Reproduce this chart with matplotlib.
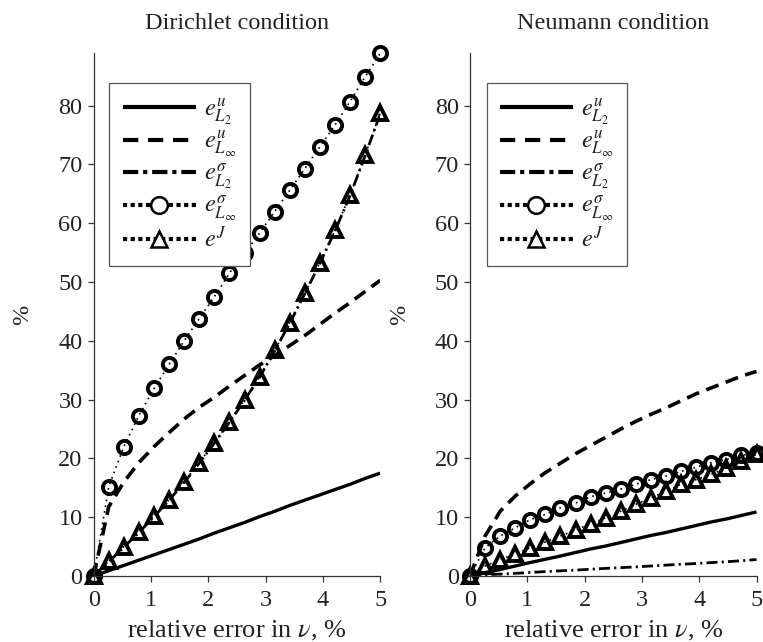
import numpy as np
import matplotlib
matplotlib.use('Agg')
import matplotlib.pyplot as plt
from matplotlib.lines import Line2D

# ---------------- data ----------------
nu = [0.0, 0.263, 0.526, 0.789, 1.053, 1.316, 1.579, 1.842, 2.105, 2.368,
      2.632, 2.895, 3.158, 3.421, 3.684, 3.947, 4.211, 4.474, 4.737, 5.0]

# Dirichlet condition
dir_eu_L2 = [0, 0.9, 1.8, 2.7, 3.6, 4.5, 5.4, 6.3, 7.3, 8.2,
             9.1, 10.1, 11.0, 12.0, 12.9, 13.8, 14.7, 15.6, 16.6, 17.5]
dir_eu_Linf = [0, 11.8, 16.0, 19.3, 22.0, 24.4, 26.7, 28.7, 30.4, 32.3,
               34.1, 35.9, 37.5, 39.2, 40.9, 42.8, 44.7, 46.5, 48.4, 50.3]
dir_es_L2 = [0, 2.4, 4.9, 7.4, 10.1, 12.9, 15.9, 19.2, 22.6, 26.1,
             29.9, 33.8, 38.3, 43.0, 48.0, 53.2, 58.7, 64.7, 71.5, 78.6]
dir_es_Linf = [0, 15.2, 22.0, 27.3, 31.9, 36.0, 40.0, 43.8, 47.5, 51.5,
               54.9, 58.3, 62.0, 65.6, 69.3, 73.0, 76.7, 80.7, 84.9, 88.9]
dir_eJ = [0, 2.5, 5.0, 7.5, 10.2, 13.0, 16.0, 19.3, 22.7, 26.2,
          30.0, 33.9, 38.4, 43.1, 48.1, 53.3, 58.8, 64.8, 71.6, 78.7]

# Neumann condition
neu_eu_L2 = [0, 0.57, 1.1, 1.7, 2.3, 2.85, 3.4, 4.0, 4.6, 5.1,
             5.7, 6.3, 6.9, 7.4, 8.0, 8.6, 9.2, 9.7, 10.3, 10.9]
neu_eu_Linf = [0, 6.8, 11.0, 13.6, 15.7, 17.6, 19.2, 20.8, 22.2, 23.6,
               25.0, 26.3, 27.5, 28.6, 29.8, 31.0, 32.0, 33.0, 34.0, 34.8]
neu_es_L2 = [0, 0.2, 0.32, 0.45, 0.6, 0.75, 0.88, 1.0, 1.15, 1.3,
             1.42, 1.55, 1.7, 1.85, 2.0, 2.12, 2.28, 2.42, 2.6, 2.8]
neu_es_Linf = [0, 4.8, 6.8, 8.2, 9.6, 10.5, 11.6, 12.4, 13.5, 14.1,
               14.8, 15.6, 16.4, 17.0, 17.8, 18.5, 19.3, 19.8, 20.5, 21.0]
neu_eJ = [0, 1.7, 2.8, 3.8, 4.8, 5.8, 6.8, 7.8, 8.9, 9.9,
          11.0, 12.2, 13.3, 14.4, 15.6, 16.4, 17.3, 18.4, 19.5, 20.7]

titles = ["Dirichlet condition", "Neumann condition"]
labels = [r"$e^{u}_{L_2}$", r"$e^{u}_{L_\infty}$", r"$e^{\sigma}_{L_2}$",
          r"$e^{\sigma}_{L_\infty}$", r"$e^{J}$"]
xticks = [0, 1, 2, 3, 4, 5]
yticks = [0, 10, 20, 30, 40, 50, 60, 70, 80]

# ---------------- style ----------------
plt.rcParams['font.family'] = ['Liberation Serif', 'DejaVu Serif']
plt.rcParams['mathtext.fontset'] = 'stix'
plt.rcParams['lines.scale_dashes'] = False
TXT = '#222222'
FS = 17.5

fig = plt.figure(figsize=(7.63, 6.42), dpi=100)
ax_rects = [[0.1228, 0.1028, 0.3755, 0.815], [0.616, 0.1028, 0.3755, 0.815]]
series = [[dir_eu_L2, dir_eu_Linf, dir_es_L2, dir_es_Linf, dir_eJ],
          [neu_eu_L2, neu_eu_Linf, neu_es_L2, neu_es_Linf, neu_eJ]]
leg_x = [0.0545, 0.058]

DASH = (9.5, 5.5)
DASHDOT = (8, 3, 1.5, 3)
DOT = (1.2, 3)

for i in range(2):
    ax = fig.add_axes(ax_rects[i])
    s = series[i]
    ax.plot(nu, s[0], color='k', lw=2.4, solid_capstyle='butt')
    ax.plot(nu, s[1], color='k', lw=2.6, dashes=DASH)
    ax.plot(nu, s[2], color='k', lw=2.0, dashes=DASHDOT)
    ax.plot(nu, s[3], color='k', lw=1.2, dashes=DOT, marker='o', ms=9.5,
            mfc='none', mec='k', mew=2.8, clip_on=False)
    ax.plot(nu, s[4], color='k', lw=1.2, dashes=DOT, marker='^', ms=10,
            mfc='none', mec='k', mew=2.8, clip_on=False)
    ax.set_xlim(0, 5)
    ax.set_ylim(0, 89)
    ax.set_xticks(xticks)
    ax.set_yticks(yticks)
    for sp in ['top', 'right']:
        ax.spines[sp].set_visible(False)
    for sp in ['left', 'bottom']:
        ax.spines[sp].set_color('#333333')
        ax.spines[sp].set_linewidth(0.9)
    ax.tick_params(direction='out', length=4, width=0.9, colors='#333333',
                   labelsize=FS, labelcolor=TXT)
    ax.tick_params(axis='x', pad=6)
    ax.tick_params(axis='y', pad=4)
    ax.set_title(titles[i], fontsize=17.5, color=TXT, pad=17)
    ax.set_xlabel(r"relative error in $\nu$, %", fontsize=19, color=TXT, labelpad=6)
    ax.set_ylabel("%", fontsize=FS, color=TXT, labelpad=18)

    handles = [
        Line2D([], [], color='k', lw=3, solid_capstyle='butt'),
        Line2D([], [], color='k', lw=3, dashes=(11, 7)),
        Line2D([], [], color='k', lw=3, dashes=(11, 3.5, 3, 3.5)),
        Line2D([], [], color='k', lw=3, dashes=(3, 2.5), marker='o', ms=12,
               mfc='white', mec='k', mew=1.8),
        Line2D([], [], color='k', lw=3, dashes=(3, 2.5), marker='^', ms=12,
               mfc='white', mec='k', mew=1.8),
    ]
    leg = ax.legend(handles, labels, loc='upper left',
                    bbox_to_anchor=(leg_x[i], 0.9415), borderaxespad=0,
                    fontsize=FS, numpoints=1, handlelength=3.0,
                    handletextpad=0.35, labelspacing=0.1, borderpad=0.55,
                    fancybox=False, framealpha=1, edgecolor='#555555')
    leg.get_frame().set_linewidth(0.9)
    for t in leg.get_texts():
        t.set_color(TXT)

fig.savefig('out.png', dpi=100)
